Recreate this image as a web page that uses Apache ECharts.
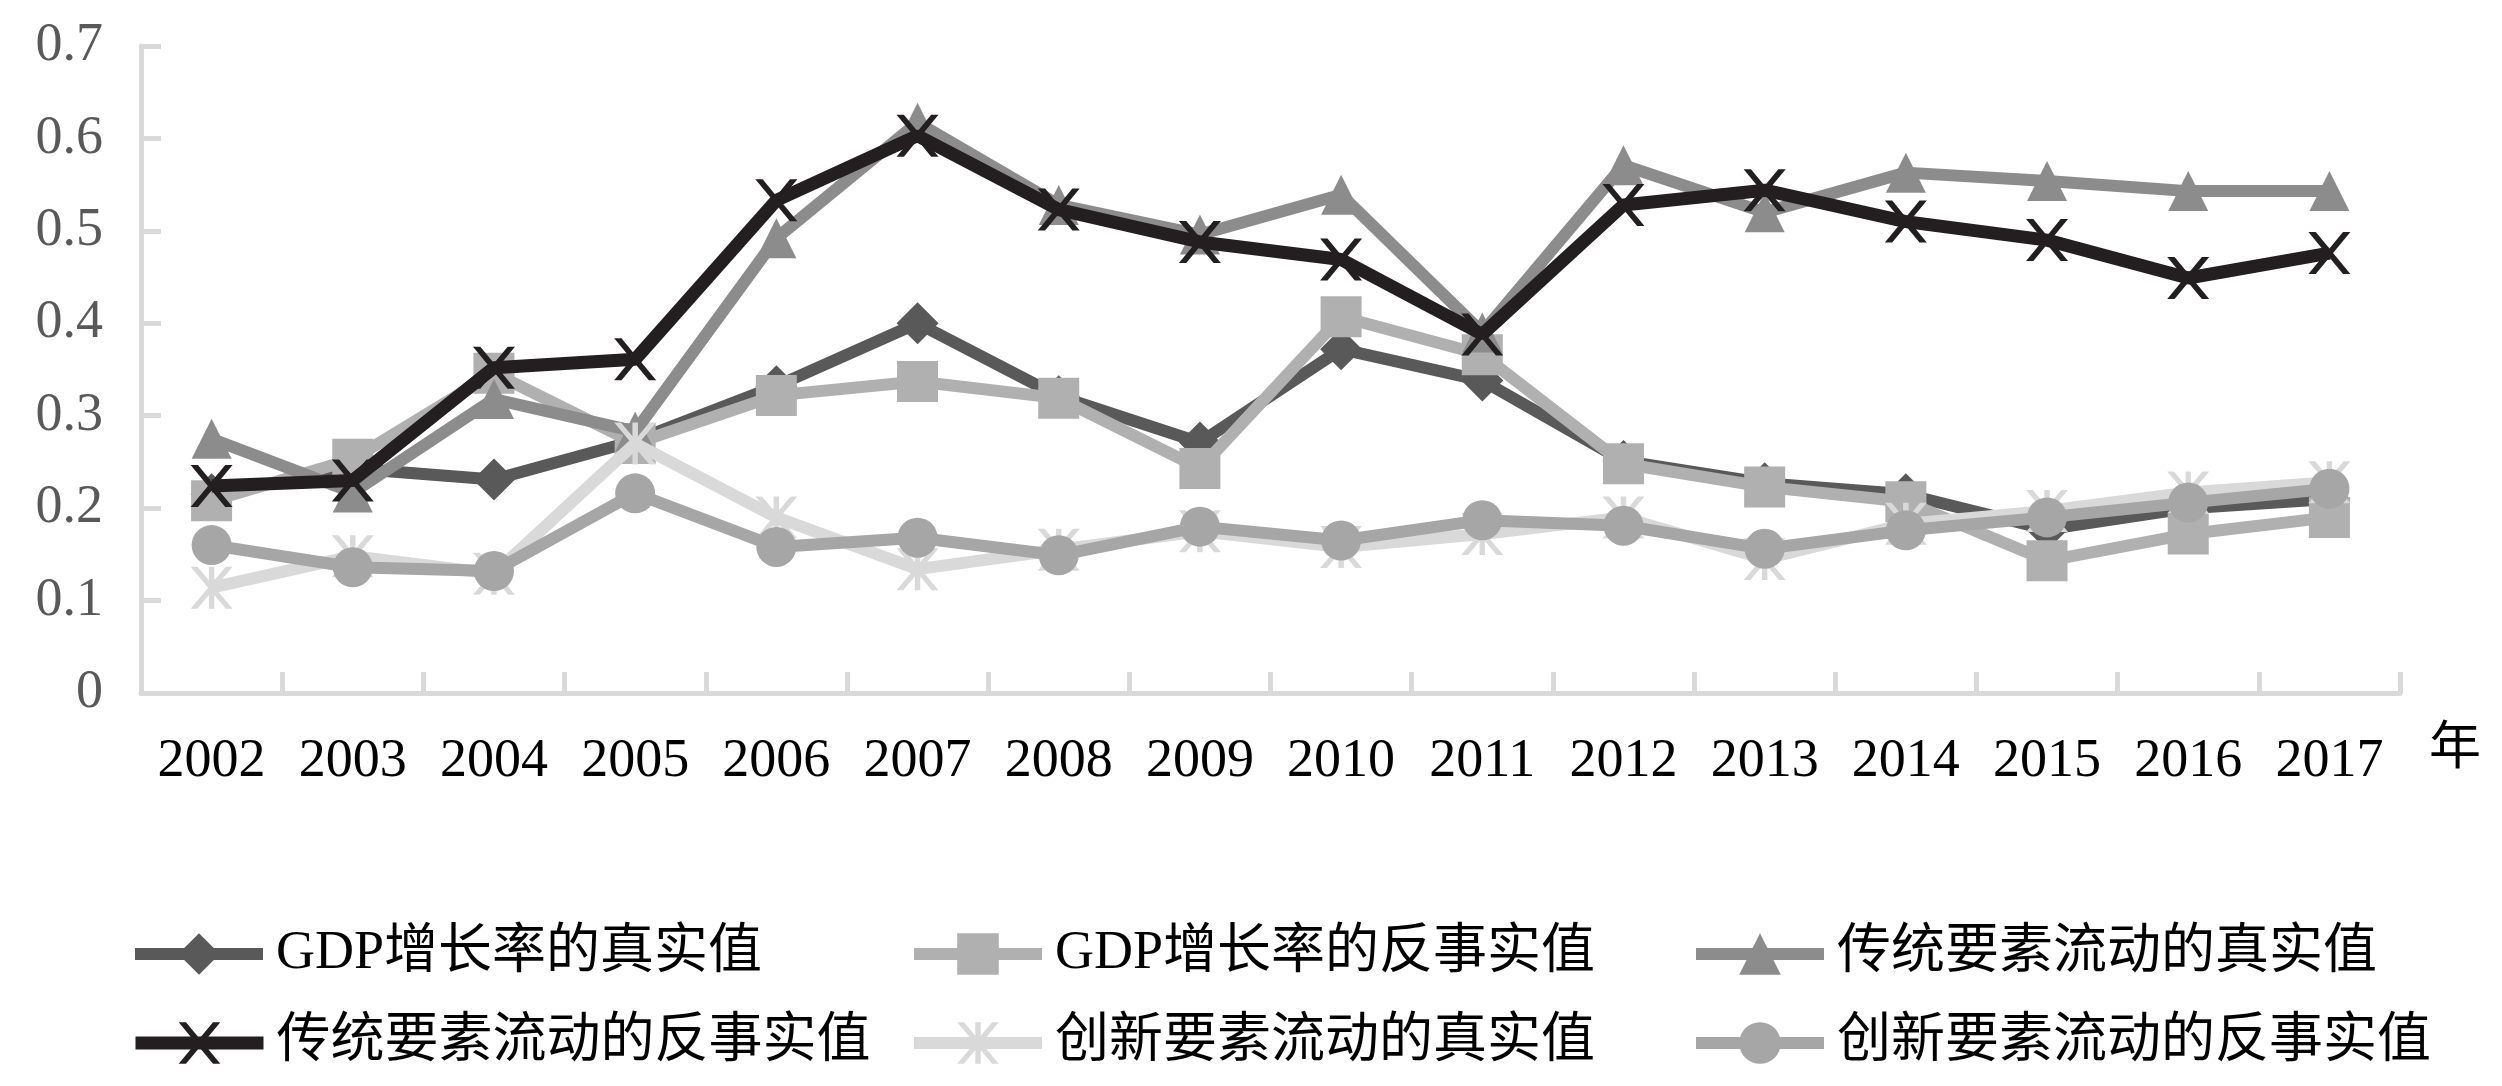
<!DOCTYPE html>
<html>
<head>
<meta charset="utf-8">
<script src="https://cdn.jsdelivr.net/npm/echarts@6/dist/echarts.min.js"></script>
<style>
html,body{margin:0;padding:0;background:#fff;}
#chart{width:2502px;height:1086px;}
</style>
</head>
<body>
<div id="chart"></div>
<script>
const years = ['2002','2003','2004','2005','2006','2007','2008','2009','2010','2011','2012','2013','2014','2015','2016','2017'];
const yTicks = [0, 0.1, 0.2, 0.3, 0.4, 0.5, 0.6, 0.7];
const xUnit = '年';
const seriesNames = ['GDP增长率的真实值','GDP增长率的反事实值','传统要素流动的真实值','传统要素流动的反事实值','创新要素流动的真实值','创新要素流动的反事实值'];
const gdpReal   = [0.215,0.243,0.231,0.273,0.332,0.400,0.321,0.271,0.372,0.338,0.251,0.227,0.215,0.177,0.200,0.210];
const gdpCF     = [0.208,0.253,0.346,0.270,0.322,0.337,0.319,0.243,0.407,0.366,0.248,0.223,0.207,0.143,0.172,0.190];
const tradReal  = [0.275,0.217,0.318,0.283,0.492,0.617,0.528,0.496,0.539,0.390,0.571,0.520,0.563,0.554,0.543,0.543];
const tradCF    = [0.224,0.230,0.352,0.361,0.533,0.603,0.523,0.488,0.469,0.388,0.528,0.544,0.510,0.490,0.449,0.476];
const innoReal  = [0.114,0.148,0.129,0.270,0.190,0.134,0.155,0.175,0.158,0.172,0.190,0.145,0.183,0.197,0.217,0.228];
const innoCF    = [0.160,0.136,0.132,0.216,0.158,0.168,0.149,0.180,0.165,0.187,0.181,0.156,0.176,0.190,0.206,0.221];

const xPath = 'path://M0,0L3.5,0L10,8.67L16.5,0L20,0L11.75,11L20,22L16.5,22L10,13.33L3.5,22L0,22L8.25,11Z';
const starPath = 'path://M0,0L3.2,0L10,8.9L16.8,0L20,0L11.6,11L20,22L16.8,22L10,13.1L3.2,22L0,22L8.4,11ZM8.7,0L11.3,0L11.3,22L8.7,22Z';

const SERIF = '"Liberation Serif", "Times New Roman", serif';
const MIXED = '"Liberation Serif", "Noto Sans CJK SC", serif';

const styles = [
  {color:'#595959', symbol:'diamond', size:42, width:12},
  {color:'#b0b0b0', symbol:'rect', size:41, width:12},
  {color:'#8c8c8c', symbol:'triangle', size:40, width:12},
  {color:'#231f20', symbol:xPath, size:42, width:13},
  {color:'#d9d9d9', symbol:starPath, size:42, width:12},
  {color:'#a6a6a6', symbol:'circle', size:40, width:12}
];
const datas = [gdpReal, gdpCF, tradReal, tradCF, innoReal, innoCF];

const series = seriesNames.map((n, i) => ({
  name: n,
  type: 'line',
  data: datas[i],
  symbol: styles[i].symbol,
  symbolSize: styles[i].size,
  showAllSymbol: true,
  symbolKeepAspect: false,
  lineStyle: {color: styles[i].color, width: styles[i].width},
  itemStyle: {color: styles[i].color, borderWidth: 0},
  emphasis: {disabled: true},
  animation: false,
  z: 2 + i
}));

const legendPos = [
  {left:124, top:922}, {left:903, top:922}, {left:1685, top:922},
  {left:124, top:1011}, {left:903, top:1011}, {left:1685, top:1011}
];
const legends = seriesNames.map((n, i) => ({
  data: [n],
  left: legendPos[i].left,
  top: legendPos[i].top,
  orient: 'horizontal',
  itemWidth: 128,
  itemHeight: 52,
  selectedMode: false,
  lineStyle: {width: styles[i].width},
  textStyle: {fontSize: 54, fontFamily: MIXED, color: '#000', padding: [0,0,0,8]}
}));

const chart = echarts.init(document.getElementById('chart'), null, {renderer:'canvas'});
chart.setOption({
  backgroundColor: '#fff',
  animation: false,
  grid: {left: 141, right: 102, top: 46, bottom: 393, containLabel: false},
  legend: legends,
  graphic: [{
    type: 'text',
    left: 2429,
    top: 724,
    style: {text: xUnit, fontSize: 52, fontFamily: MIXED, fill: '#000'}
  }],
  xAxis: {
    type: 'category',
    data: years,
    boundaryGap: true,
    axisLine: {show: true, lineStyle: {color: '#d9d9d9', width: 5}},
    axisTick: {show: true, inside: true, length: 21, alignWithLabel: false, lineStyle: {color: '#d9d9d9', width: 5}},
    axisLabel: {fontSize: 54, fontFamily: SERIF, color: '#000', margin: 42, interval: 0},
    splitLine: {show: false}
  },
  yAxis: {
    type: 'value',
    min: yTicks[0],
    max: yTicks[yTicks.length - 1],
    interval: 0.1,
    axisLine: {show: true, lineStyle: {color: '#d9d9d9', width: 5}},
    axisTick: {show: true, inside: true, length: 20, lineStyle: {color: '#d9d9d9', width: 5}},
    axisLabel: {fontSize: 54, fontFamily: SERIF, color: '#595959', margin: 38,
      formatter: v => String(Math.round(v * 10) / 10)},
    splitLine: {show: false}
  },
  series: series
});
</script>
</body>
</html>
